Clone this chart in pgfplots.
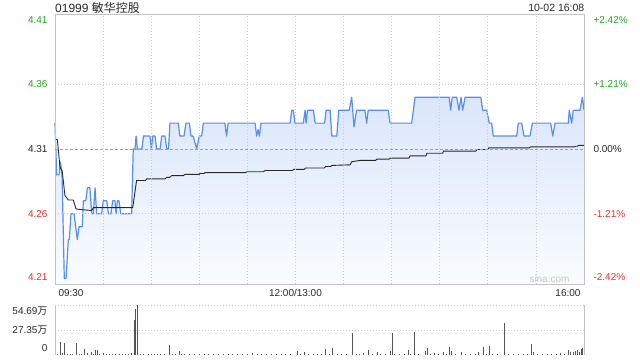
\documentclass[border=0pt]{standalone}
\usepackage{pgfplots}
\pgfplotsset{compat=1.18}
\usepackage{pgfplotstable}
\usepackage{fontspec}
\setmainfont{Liberation Sans}
\newfontfamily\cjk{Noto Sans CJK SC}
\definecolor{cgreen}{RGB}{34,170,34}
\definecolor{cred}{RGB}{238,48,48}
\definecolor{cblue}{RGB}{88,142,236}
\definecolor{cgrid}{RGB}{204,204,204}
\definecolor{cframe}{RGB}{196,196,196}
\definecolor{ctext}{RGB}{40,40,40}
\definecolor{cfilltop}{RGB}{218,230,250}
\definecolor{cfillbot}{RGB}{250,252,255}
\definecolor{cbar}{RGB}{85,85,85}

\pgfplotstableread{
m p
0 4.33
1.06 4.29
2.5 4.29
3.4 4.30
4.4 4.29
5.8 4.21
6.9 4.21
8.3 4.24
8.9 4.24
10.0 4.26
11.9 4.26
13.9 4.24
15.0 4.25
17.0 4.25
17.7 4.27
19.2 4.27
20.2 4.28
21.8 4.28
22.9 4.26
23.9 4.26
25.0 4.28
26.0 4.26
29.1 4.26
30.1 4.27
32.3 4.27
33.3 4.26
34.9 4.26
36.0 4.27
37.4 4.27
38.1 4.26
38.9 4.27
39.9 4.27
41.0 4.26
47.8 4.26
48.8 4.31
49.9 4.31
50.6 4.32
51.4 4.31
54.2 4.31
55.2 4.32
59.3 4.32
60.1 4.31
61.0 4.32
62.4 4.32
63.4 4.31
65.5 4.31
66.6 4.32
68.6 4.32
69.7 4.31
70.8 4.31
71.7 4.33
76.9 4.33
77.9 4.32
80.5 4.32
81.7 4.33
83.8 4.33
84.8 4.32
86.2 4.32
88.4 4.31
90.0 4.32
91.5 4.32
92.5 4.33
106.0 4.33
107.0 4.32
108.0 4.33
124.8 4.33
125.8 4.32
126.7 4.325
127.5 4.32
128.5 4.33
146.6 4.33
147.7 4.34
148.7 4.34
149.7 4.33
154.9 4.33
156.0 4.34
156.6 4.33
157.5 4.34
161.2 4.34
162.3 4.33
168.2 4.33
169.1 4.34
171.6 4.34
172.7 4.32
175.8 4.32
177.0 4.34
183.5 4.34
185.1 4.35
186.5 4.327
188.1 4.34
193.3 4.34
194.4 4.33
195.4 4.34
207.9 4.34
209.0 4.33
222.5 4.33
224.6 4.35
245.9 4.35
246.8 4.34
247.8 4.35
250.6 4.35
252.0 4.34
253.3 4.35
254.3 4.34
255.8 4.35
265.6 4.35
266.8 4.34
269.3 4.34
270.9 4.33
272.4 4.33
273.4 4.32
288.0 4.32
289.0 4.33
291.1 4.33
292.6 4.32
296.3 4.32
297.8 4.33
309.2 4.33
310.5 4.32
311.9 4.33
320.2 4.33
320.8 4.34
322.3 4.33
323.3 4.34
327.5 4.34
329.0 4.35
330.0 4.34
}\price

\pgfplotstableread{
m v
0 4.318
1.5 4.317
3.1 4.296
4.5 4.293
6.2 4.274
8.3 4.2706
11.4 4.2706
13.1 4.2637
17.7 4.2630
22.9 4.2625
23.9 4.2647
48.5 4.2647
50.9 4.2857
56.5 4.2857
57.2 4.2869
68.6 4.2869
69.7 4.2881
71.5 4.2881
72.8 4.2894
80.0 4.2894
81.1 4.2904
90.0 4.2904
90.5 4.2911
93.0 4.2911
93.6 4.2918
119.0 4.2918
119.6 4.2924
130.0 4.2924
131.0 4.2934
148.0 4.2934
149.0 4.2943
155.5 4.2943
156.3 4.2953
168.0 4.2953
168.8 4.2965
172.0 4.2965
172.7 4.2973
184.1 4.2978
185.2 4.3002
190.4 4.3012
200.0 4.3012
200.8 4.3022
208.5 4.3022
209.1 4.3030
220.8 4.3030
221.6 4.3047
231.4 4.3047
232.0 4.3067
241.8 4.3067
242.4 4.3084
262.6 4.3084
263.2 4.3096
270.0 4.3096
270.5 4.3109
296.0 4.3109
296.5 4.3116
324.0 4.3116
324.5 4.3121
326.0 4.3121
326.4 4.3128
330 4.3128
}\vwap

\pgfplotstableread{
m v
0.3 7.3
3.1 14.6
6.2 12.8
13.1 13.5
18.3 6.6
22.9 3.6
25.0 5.5
26.6 5.5
49.5 38.3
50.3 50.0
51.3 54.3
71.1 10.9
77.5 4.4
151.2 4.4
155.3 3.0
169.0 6.6
173.0 8.0
185.5 23.7
192.3 2.0
195.4 5.5
201.0 3.6
209.0 4.5
210.4 24.4
220.4 5.5
224.1 25.5
230.8 4.5
232.2 8.0
237.0 2.0
242.2 3.3
246.0 9.1
247.5 4.5
253.3 3.6
264.1 3.6
267.2 9.1
270.9 10.2
280.3 35.4
297.1 12.4
298.4 3.6
315.0 2.5
320.2 5.5
321.3 3.6
323.3 3.6
324.4 4.5
326.1 5.5
326.9 3.6
328.1 6.4
329.2 7.3
330.0 31.0
1.5 1.2
4.6 2.0
7.8 1.0
9.5 1.5
11 0.8
15 1.2
16.5 1.0
20 2.0
24 1.5
28 1.0
30 1.8
32 1.2
34 0.8
36 1.0
38 1.5
40 1.0
42 0.8
44 1.2
46 1.0
47.5 2.0
53 1.5
55 1.0
58 1.2
60 1.0
62 1.5
64 1.0
66 0.8
68 1.2
73 1.0
75 1.5
79 1.0
81 1.2
84 0.8
87 1.0
90 1.5
93 1.0
96 1.2
99 0.8
102 1.0
105 1.2
108 0.8
111 1.0
114 1.2
117 0.8
120 1.0
123 1.8
126 1.0
129 0.8
132 1.2
135 1.0
138 0.8
141 1.0
144 1.5
147 1.0
153 1.2
158 1.0
161 1.5
164 1.0
166 0.8
171 1.2
176 1.5
179 1.0
182 0.8
188 1.0
190 1.2
198 1.5
203 1.0
206 0.8
212 1.0
215 1.2
218 1.0
222 1.5
227 1.2
234 1.0
239 0.8
244 1.0
250 1.2
256 1.0
259 0.8
262 1.2
269 1.5
273 1.0
276 0.8
283 1.2
286 1.0
289 0.8
292 1.0
295 1.2
301 1.0
304 0.8
307 1.0
310 1.2
313 1.0
318 1.5
}\vol

\begin{document}
\begin{tikzpicture}
\useasboundingbox (0pt,0pt) rectangle (640pt,360pt);
\node[anchor=west, text=ctext, font=\fontsize{12}{14}\selectfont, inner sep=0pt] at (55pt,352.5pt) {01999 {\cjk 敏华控股}};
\node[anchor=east, text=ctext, font=\fontsize{10.5}{12}\selectfont, inner sep=0pt] at (584.5pt,352.2pt) {10-02 16:08};
\begin{axis}[at={(55pt,76pt)}, anchor=south west, scale only axis, width=529pt, height=270pt,
  xmin=0, xmax=330, ymin=4.2057, ymax=4.4143,
  xtick={30,60,...,300}, ytick={4.26,4.36}, xticklabels={}, yticklabels={},
  extra y ticks={4.31}, extra y tick labels={},
  extra y tick style={grid=major, major grid style={draw=gray!75, dash pattern=on 3pt off 2pt, line width=0.7pt}},
  grid=major, major grid style={draw=cgrid, dash pattern=on 1pt off 2pt, line width=0.8pt},
  major tick length=0pt, axis line style={draw=cframe, line width=0.8pt},
  axis on top, clip=false,
  every node/.append style={font=\fontsize{10.5}{12}\selectfont, inner sep=0pt}]
\addplot[draw=none, top color=cfilltop, bottom color=cfillbot] table[x=m,y=p] {\price} |- (axis cs:0,4.2057) -- cycle;
\addplot[cblue, line width=1.2pt, line join=round] table[x=m,y=p] {\price};
\addplot[ctext, line width=0.9pt] table[x=m,y=v] {\vwap};
\node[anchor=east, text=cgreen, xshift=-4pt, yshift=-6pt] at (axis cs:0,4.4143) {4.41};
\node[anchor=east, text=cgreen, xshift=-4pt] at (axis cs:0,4.36) {4.36};
\node[anchor=east, text=ctext, xshift=-4pt] at (axis cs:0,4.31) {4.31};
\node[anchor=east, text=cred, xshift=-4pt] at (axis cs:0,4.26) {4.26};
\node[anchor=east, text=cred, xshift=-4pt, yshift=6.5pt] at (axis cs:0,4.2057) {4.21};
\node[anchor=west, text=cgreen, xshift=6pt, yshift=-6pt] at (axis cs:330,4.4143) {+2.42\%};
\node[anchor=west, text=cgreen, xshift=6pt] at (axis cs:330,4.36) {+1.21\%};
\node[anchor=west, text=ctext, xshift=6pt] at (axis cs:330,4.31) {0.00\%};
\node[anchor=west, text=cred, xshift=6pt] at (axis cs:330,4.26) {-1.21\%};
\node[anchor=west, text=cred, xshift=6pt, yshift=6.5pt] at (axis cs:330,4.2057) {-2.42\%};
\node[anchor=west, text=ctext, yshift=-9pt] at (axis cs:0,4.2057) {09:30};
\node[anchor=center, text=ctext, yshift=-9pt] at (axis cs:150,4.2057) {12:00/13:00};
\node[anchor=east, text=ctext, yshift=-9pt] at (axis cs:330,4.2057) {16:00};
\node[anchor=east, text=gray!45, xshift=-11pt, yshift=5.5pt] at (axis cs:330,4.2057) {sina.com};
\end{axis}
\begin{axis}[at={(55pt,5pt)}, anchor=south west, scale only axis, width=529pt, height=50pt,
  xmin=0, xmax=330, ymin=0, ymax=54.69,
  xtick=\empty, ytick={27.35,54.69}, yticklabels={},
  ymajorgrids, major grid style={draw=cgrid, dash pattern=on 1pt off 2pt, line width=0.8pt},
  major tick length=0pt, axis line style={draw=none}, clip=false, axis on top,
  every node/.append style={font=\fontsize{10.5}{12}\selectfont, inner sep=0pt}]
\addplot[ycomb, no markers, cbar, line width=0.9pt] table[x=m,y=v] {\vol};
\draw[cframe, line width=0.8pt] (rel axis cs:0,0) -- (rel axis cs:0,1);
\draw[cframe, line width=0.8pt] (rel axis cs:1,0) -- (rel axis cs:1,1);
\node[anchor=east, text=ctext, xshift=-4pt, yshift=-6.5pt] at (axis cs:0,54.69) {54.69{\cjk 万}};
\node[anchor=east, text=ctext, xshift=-4pt] at (axis cs:0,27.35) {27.35{\cjk 万}};
\node[anchor=east, text=ctext, xshift=-4pt, yshift=6.5pt] at (axis cs:0,0) {0};
\end{axis}
\end{tikzpicture}
\end{document}
